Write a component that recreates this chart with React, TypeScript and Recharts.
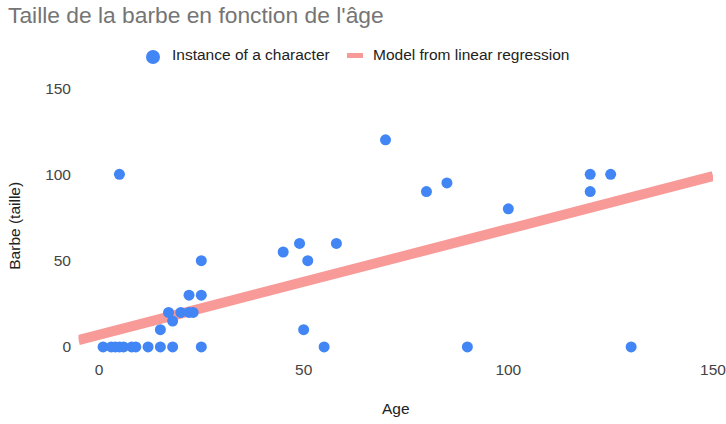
import { ScatterChart, Scatter, XAxis, YAxis, Label } from 'recharts';

// characters: age (x) vs beard size (y)
const ages = [1, 3, 4, 5, 6, 8, 9, 12, 15, 18, 25, 15, 18, 17, 20, 22, 23, 22, 25, 5, 25, 70, 45, 49, 51, 58, 50, 55, 80, 85, 90, 100, 120, 120, 125, 130];
const beards = [0, 0, 0, 0, 0, 0, 0, 0, 0, 0, 0, 10, 15, 20, 20, 20, 20, 30, 30, 100, 50, 120, 55, 60, 50, 60, 10, 0, 90, 95, 0, 80, 100, 90, 100, 0];

// regression line endpoints
const modelAges = [-5, 150];
const modelBeards = [4, 99];

const xTicks = [0, 50, 100, 150];
const yTicks = [0, 50, 100, 150];

const points = ages.map((a, i) => ({ x: a, y: beards[i] }));
const model = modelAges.map((a, i) => ({ x: a, y: modelBeards[i] }));

const FONT = '"Liberation Sans", Arial, sans-serif';
const BLUE = '#4285f4';
const PINK = '#f79a98';
const FS = 15.5;

function YTitle({ viewBox }: { viewBox?: { x: number; y: number; width: number; height: number } }) {
  const cy = (viewBox?.y ?? 0) + (viewBox?.height ?? 0) / 2 + 4;
  return (
    <text x={20} y={cy} transform={`rotate(-90 20 ${cy})`} textAnchor="middle"
      style={{ fontSize: FS, fill: '#222', fontFamily: FONT }}>
      Barbe (taille)
    </text>
  );
}

export default function App() {
  return (
    <div style={{ position: 'absolute', left: 0, top: 0, width: 726, height: 424, background: '#fff', fontFamily: FONT }}>
      <div style={{ position: 'absolute', left: 8, top: 2, fontSize: 22.8, color: '#757575', whiteSpace: 'nowrap' }}>
        Taille de la barbe en fonction de l'âge
      </div>
      <div style={{ position: 'absolute', left: 0, top: 0, fontSize: FS, color: '#222', whiteSpace: 'nowrap' }}>
        <span style={{ position: 'absolute', left: 146, top: 50, width: 14, height: 14, borderRadius: 7, background: BLUE }} />
        <span style={{ position: 'absolute', left: 172, top: 46 }}>Instance of a character</span>
        <span style={{ position: 'absolute', left: 347, top: 53, width: 16, height: 4.5, background: PINK }} />
        <span style={{ position: 'absolute', left: 373, top: 46 }}>Model from linear regression</span>
      </div>
      <div style={{ position: 'absolute', left: 0, top: 0 }}>
        <ScatterChart width={726} height={424} margin={{ top: 88, right: 13, bottom: 8.4, left: 18.5 }}>
          <XAxis type="number" dataKey="x" domain={[-5, 150]} ticks={xTicks} allowDataOverflow
            axisLine={false} tickLine={false} tickSize={0} tickMargin={8.4} height={60}
            tick={{ fontSize: FS, fill: '#444', fontFamily: FONT }}>
            <Label value="Age" position="insideBottom" offset={1.6}
              style={{ fontSize: FS, fill: '#222', fontFamily: FONT }} />
          </XAxis>
          <YAxis type="number" dataKey="y" domain={[-5, 150]} ticks={yTicks} allowDataOverflow
            axisLine={false} tickLine={false} tickSize={0} tickMargin={7.5} width={60}
            tick={{ fontSize: FS, fill: '#444', fontFamily: FONT }}>
            <Label content={(props) => <YTitle viewBox={props.viewBox as any} />} />
          </YAxis>
          <Scatter data={model} line={{ stroke: PINK, strokeWidth: 10 }} shape={() => <g />}
            isAnimationActive={false} />
          <Scatter data={points} fill={BLUE}
            shape={(p: any) => <circle cx={p.cx} cy={p.cy} r={5.5} fill={BLUE} />}
            isAnimationActive={false} />
        </ScatterChart>
      </div>
    </div>
  );
}
